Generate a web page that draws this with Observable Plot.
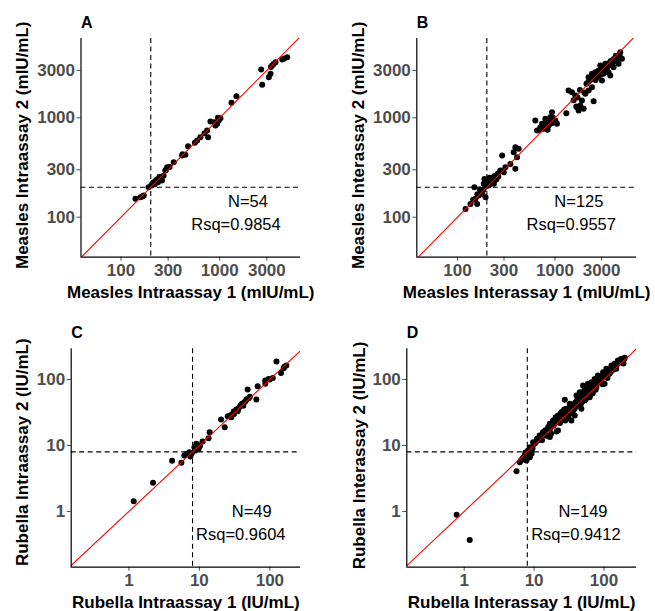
<!DOCTYPE html>
<html><head><meta charset="utf-8">
<script src="https://cdn.jsdelivr.net/npm/d3@7"></script>
<script src="https://cdn.jsdelivr.net/npm/@observablehq/plot@0.6"></script>
<style>
body{margin:0;background:#fff;}
#wrap{position:relative;width:655px;height:611px;overflow:hidden;background:#fff;}
.pane{position:absolute;}
</style></head><body><div id="wrap"></div>
<script>
// ---- tick labels, cutoffs, texts ----
const measlesTicks = [100, 300, 1000, 3000];
const rubellaTicks = [1, 10, 100];
const measlesCutoff = 200;
const rubellaCutoff = 8;
const panelLetters = ["A", "B", "C", "D"];
const xTitles = ["Measles Intraassay 1 (mIU/mL)", "Measles Interassay 1 (mIU/mL)", "Rubella Intraassay 1 (IU/mL)", "Rubella Interassay 1 (IU/mL)"];
const yTitles = ["Measles Intraassay 2 (mIU/mL)", "Measles Interassay 2 (mIU/mL)", "Rubella Intraassay 2 (IU/mL)", "Rubella Interassay 2 (IU/mL)"];
const nLabels = ["N=54", "N=125", "N=49", "N=149"];
const rsqLabels = ["Rsq=0.9854", "Rsq=0.9557", "Rsq=0.9604", "Rsq=0.9412"];

// ---- A: Measles intraassay (assay 1, assay 2) ----
const measlesIntra = [[140,153],[157,159],[170,165],[165,162],[190,200],[203,208],[214,225],[226,234],[241,243],[256,253],[237,225],[260,234],[250,248],[232,240],[220,215],[270,262],[281,295],[293,318],[285,300],[342,357],[416,418],[449,425],[478,518],[590,591],[637,638],[762,638],[745,745],[805,918],[904,836],[977,939],[1016,991],[942,871],[880,900],[960,1000],[1315,1416],[1476,1648],[2630,3060],[2690,2148],[3141,2560],[3270,2770],[3400,3360],[3670,3620],[4300,3860],[4830,4075],[3500,3450],[3300,3250],[4500,3950],[700,700],[560,560],[420,430],[310,320],[205,212],[210,220],[245,255]];

// ---- B: Measles interassay ----
const measlesInter = [[121,121],[136,136],[149,200],[153,153],[165,165],[159,136],[175,179],[186,217],[194,159],[189,243],[201,234],[209,208],[218,225],[226,243],[236,217],[245,253],[259,273],[275,295],[287,418],[310,318],[298,284],[349,344],[377,451],[392,506],[392,307],[424,487],[408,402],
[628,939],[654,745],[708,804],[736,871],[796,977],[765,774],[828,903],[861,837],[895,1014],[931,1138],[968,903],[1007,939],[1047,871],[840,757],[1306,1111],
[1377,1884],[1492,1812],[1614,1675],[1679,1280],[1746,1185],[1816,1331],[1888,1493],[1963,1233],[2042,1742],[2208,1884],[2485,1468],[2393,2034],[2208,2560],[2393,2770],[2582,2877],[2690,2560],[2910,3360],[3026,2372],[3144,2770],[3400,3113],[3536,2877],[3830,3766],[3980,3229],[4310,4075],[4660,4572],[4850,3924],[4480,3490],[3275,3490],[3680,2667],
[170,190],[180,170],[195,205],[205,230],[212,250],[220,240],[230,230],[240,260],[250,240],[262,255],[200,215],[215,215],[228,250],[160,170],[145,150],[185,190],
[700,760],[750,830],[780,850],[810,880],[850,870],[880,900],[900,960],[920,880],[950,1000],[820,820],[760,800],[870,930],
[2300,2400],[2500,2600],[2600,2400],[2700,2800],[2800,3000],[2900,2700],[3000,3200],[3100,3000],[3300,3100],[3400,3500],[3600,3400],[3700,3700],[3900,3600],[4000,3900],[4100,3700],[4200,4200],[4400,4000],[4600,4300],[2100,2200],[2200,2300],[1700,1600],[1800,1900],[1550,1500],[2000,1800],[1650,1300]];

// ---- C: Rubella intraassay ----
const rubellaIntra = [[1.17,1.43],[2.2,2.72],[4.1,5.87],[5.56,5.47],[6.12,7.05],[6.69,7.48],[7.2,7.9],[7.45,6.8],[8.5,9.4],[9.06,10.6],[9.77,8.9],[9.46,10.2],[11.1,11.5],[13.5,12.9],[14,15.9],[20.3,24.8],[22.9,18.9],[25.2,27.8],[28.4,26.8],[30.7,32.7],[33.5,35.1],[36.2,36.7],[38.2,40.3],[40.3,42.8],[43.5,45.3],[46.4,49.8],[48.4,70.5],[50,52],[64.4,49.8],[67.2,79],[86.3,86],[86,96.6],[96,102],[124,187],[144,126],[157,148],[171,163],
[7.8,7.6],[8.8,8.4],[10.2,9.8],[31,30],[35,33],[42,40],[45,47],[52,55],[100,100],[110,105],[160,155],[28,29]];

// ---- D: Rubella interassay ----
const rubellaInter = [[0.78,0.89],[1.2,0.37],[5.6,4.08],[6.25,5.58],[6.8,6.28],[7.36,7.05],[7.78,5.93],[8.2,8.4],[8.7,6.65],[8.7,9.42],[9.2,7.48],[9.7,11.2],[11,12.6],[12,14.2],[13.4,15.9],[15.8,17.9],[16.8,21.3],[16.8,13.4],[18.7,23.9],[20.4,26.8],[22,28.5],[22,16.9],[24.6,32],[26,25.4],[27.5,49.2],[29,35.9],[30.6,28.5],[32.4,42.8],[34.2,23.9],[36.1,33.9],[38.1,28.5],[40.4,57.3],[42.6,42.8],[45,64.3],[47.5,35.9],[50.1,81],[53,48],[56,64.3],[59,86],[62.5,54],[66,91],[73.6,102],[77.8,76.4],[82,115],[91.8,96.6],[97,129],[102,86],[108,145],[120,122],[128,163],[142,173],[150,145],[158,194],[177,206],[187,183],[198,213],[21,16.3],
[6.5,6.0],[7.0,6.5],[7.5,7.8],[8.0,7.2],[8.4,8.0],[9.0,8.6],[9.5,9.0],[10,10.5],[7.2,6.2],[8.9,7.9],
[10.5,11],[11.5,12],[12.5,13.5],[13,12],[14,15],[14.5,17],[15,14],[16,19],[17,18],[18,21],[19,20],[17.5,15],[19.5,24],
[20,22],[21,25],[23,27],[23.5,22],[24,30],[25,28],[26,33],[27,30],[28,24],[29,31],[31,36],[32,30],[33,38],[34,40],[35,31],[37,42],[38,36],[39,45],[31,26],[27,35],
[41,48],[43,40],[44,52],[46,55],[48,45],[49,60],[51,55],[52,68],[54,58],[55,50],[57,70],[58,62],[60,75],[61,58],[63,68],[65,80],[67,72],[69,62],[70,85],[72,78],[75,90],[76,70],[79,95],
[84,100],[86,90],[89,110],[93,105],[95,85],[99,112],[105,120],[110,125],[112,105],[115,135],[118,140],[125,130],[130,150],[135,140],[138,160],[145,165],[155,170],[165,180],[170,195],[180,190],[185,200],[195,205],[190,175],[46,40],[64,58],[100,118]];

// ---- axis domains (log) ----
const domains = [
  {x: [39.3, 6580], y: [39.6, 6280]},
  {x: [38.3, 6840], y: [39.6, 6280]},
  {x: [0.152, 272], y: [0.143, 292]},
  {x: [0.151, 292], y: [0.143, 292]}
];

const layout = [
  {left: 0,   top: 0,   w: 327, h: 305, ml: 80.5, mr: 27, mt: 38,   mb: 48.3, ytDx: -58.8, ytDy: -2.6, nDx: -52.5, rDx: -64.5},
  {left: 327, top: 0,   w: 328, h: 305, ml: 89.3, mr: 19, mt: 38,   mb: 48.3, ytDx: -58.6, ytDy: -2.6, nDx: -57.6, rDx: -65.3},
  {left: 0,   top: 305, w: 327, h: 306, ml: 70.7, mr: 27, mt: 43.3, mb: 44.3, ytDx: -49,   ytDy: -5.8, nDx: -48.8, rDx: -59.7},
  {left: 327, top: 305, w: 328, h: 306, ml: 79.3, mr: 19, mt: 43.3, mb: 44.3, ytDx: -47.6, ytDy: -2.5, nDx: -53.5, rDx: -60.6}
];

const datasets = [measlesIntra, measlesInter, rubellaIntra, rubellaInter];
const ticksets = [measlesTicks, measlesTicks, rubellaTicks, rubellaTicks];
const cutoffs = [measlesCutoff, measlesCutoff, rubellaCutoff, rubellaCutoff];

const FONT = "Arial, 'Liberation Sans', sans-serif";
const wrap = document.getElementById("wrap");

datasets.forEach((ds, i) => {
  const L = layout[i], D = domains[i];
  const data = ds.map(([a, b]) => ({a, b}));
  const lo = Math.min(D.x[0], D.y[0]), hi = Math.max(D.x[1], D.y[1]);
  const txt = {text: d => d, textAnchor: "middle", lineAnchor: "middle", fill: "black"};
  const plot = Plot.plot({
    width: L.w, height: L.h,
    marginLeft: L.ml, marginRight: L.mr, marginTop: L.mt, marginBottom: L.mb,
    style: {fontFamily: FONT, background: "white", overflow: "visible"},
    x: {type: "log", domain: D.x, label: null},
    y: {type: "log", domain: D.y, label: null},
    marks: [
      Plot.ruleX([cutoffs[i]], {stroke: "black", strokeWidth: 1.1, strokeDasharray: "5,3.5"}),
      Plot.ruleY([cutoffs[i]], {stroke: "black", strokeWidth: 1.1, strokeDasharray: "5,3.5"}),
      Plot.dot(data, {x: "a", y: "b", r: 3, fill: "black", stroke: null}),
      Plot.line([lo, hi], {x: d => d, y: d => d, stroke: "#ff0000", strokeWidth: 1.1, clip: true}),
      Plot.axisX({ticks: ticksets[i], tickFormat: d => String(d), tickSize: 4, tickPadding: 3, fontSize: 17, fontWeight: "bold", color: "#4d4d4d", label: null}),
      Plot.axisY({ticks: ticksets[i], tickFormat: d => String(d), tickSize: 4, tickPadding: 2, fontSize: 17, fontWeight: "bold", color: "#4d4d4d", label: null}),
      Plot.ruleX([D.x[0]], {stroke: "black", strokeWidth: 1.2}),
      Plot.ruleY([D.y[0]], {stroke: "black", strokeWidth: 1.2}),
      Plot.text([xTitles[i]], {...txt, frameAnchor: "bottom", dy: 35.3, fontSize: 17, fontWeight: "bold"}),
      Plot.text([yTitles[i]], {...txt, frameAnchor: "left", rotate: -90, dx: L.ytDx, dy: L.ytDy, fontSize: 17, fontWeight: "bold"}),
      Plot.text([panelLetters[i]], {...txt, frameAnchor: "top-left", textAnchor: "start", dy: -15.8, fontSize: 16, fontWeight: "bold"}),
      Plot.text([nLabels[i]], {...txt, frameAnchor: "bottom-right", dx: L.nDx, dy: -55.6, fontSize: 16.5}),
      Plot.text([rsqLabels[i]], {...txt, frameAnchor: "bottom-right", dx: L.rDx, dy: -32.5, fontSize: 16.5})
    ]
  });
  const div = document.createElement("div");
  div.className = "pane";
  div.style.left = L.left + "px";
  div.style.top = L.top + "px";
  div.appendChild(plot);
  wrap.appendChild(div);
});
</script></body></html>
